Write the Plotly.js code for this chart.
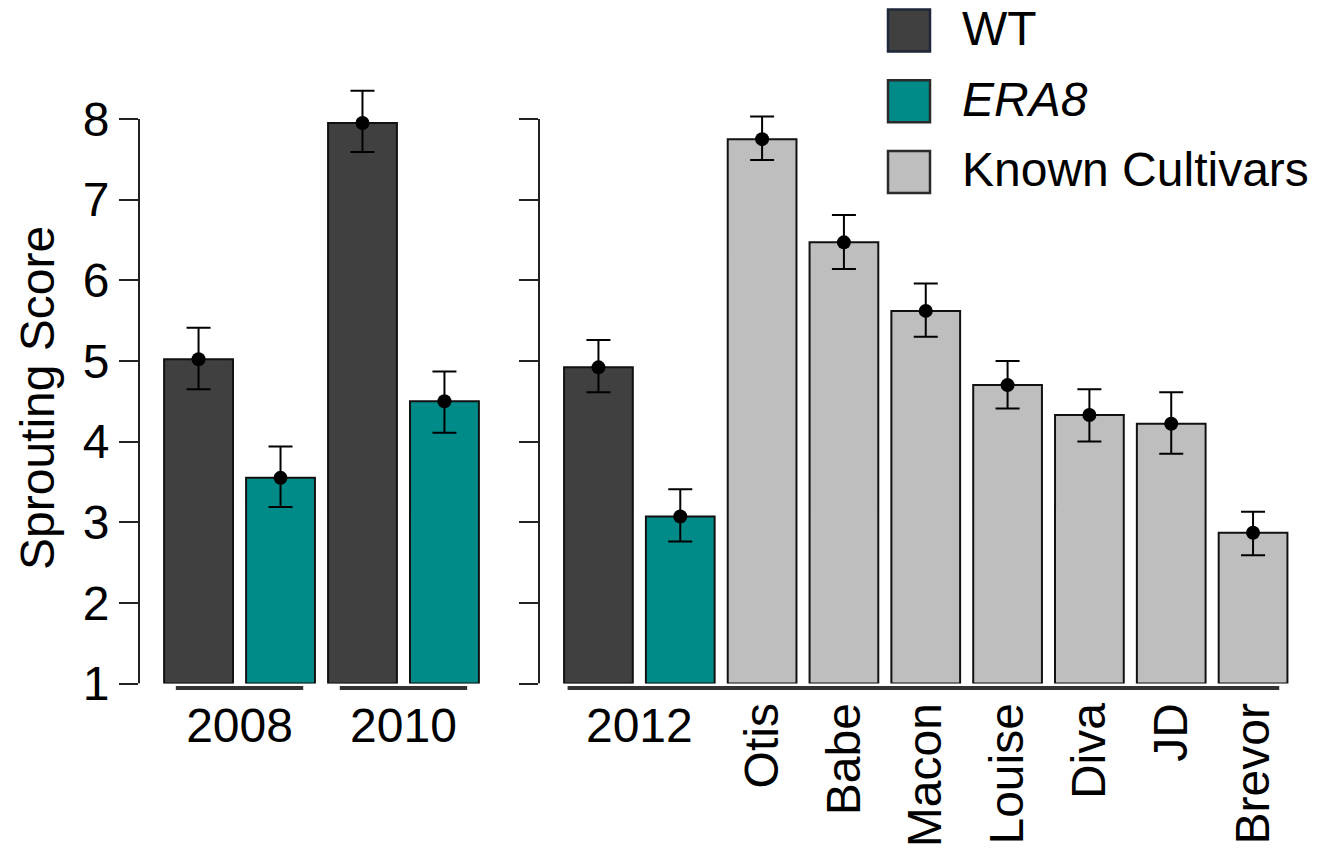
<!DOCTYPE html>
<html>
<head>
<meta charset="utf-8">
<script src="https://cdn.plot.ly/plotly-3.0.1.min.js"></script>
<style>
  html, body { margin: 0; padding: 0; background: #ffffff; }
  #chart { width: 1323px; height: 854px; }
</style>
</head>
<body>
<div id="chart"></div>
<script>
// ---- data -------------------------------------------------------------
// Left panel: field seasons 2008 and 2010, WT vs ERA8
const leftGroups = ['WT', 'ERA8', 'WT', 'ERA8'];
const leftMeans  = [5.02, 3.55, 7.95, 4.50];
const leftUpper  = [5.41, 3.94, 8.35, 4.87];
const leftLower  = [4.65, 3.19, 7.59, 4.11];
const leftYearTicks = ['2008', '2010'];

// Right panel: 2012 season WT, ERA8 and known cultivars
const rightNames  = ['WT 2012', 'ERA8 2012', 'Otis', 'Babe', 'Macon', 'Louise', 'Diva', 'JD', 'Brevor'];
const rightGroups = ['WT', 'ERA8', 'Known', 'Known', 'Known', 'Known', 'Known', 'Known', 'Known'];
const rightMeans  = [4.92, 3.07, 7.75, 6.47, 5.62, 4.70, 4.33, 4.22, 2.87];
const rightUpper  = [5.26, 3.41, 8.03, 6.81, 5.96, 5.00, 4.65, 4.61, 3.13];
const rightLower  = [4.61, 2.76, 7.49, 6.14, 5.30, 4.41, 4.00, 3.85, 2.59];
const rightYearTicks = ['2012'];

const yTicks = [1, 2, 3, 4, 5, 6, 7, 8];

const legendLabels = ['WT', '<i>ERA8</i>', 'Known Cultivars'];
const legendKeys   = ['WT', 'ERA8', 'Known'];

// ---- styling ----------------------------------------------------------
const groupColor  = { WT: '#404040', ERA8: '#008b88', Known: '#bebebe' };
const groupBorder = { WT: '#1d2739', ERA8: '#2a2a2a', Known: '#2a2a2a' };
const FONT = 'Liberation Sans, Arial, Helvetica, sans-serif';
const BASE = yTicks[0];
const BAR_W = 0.84;

const idx = arr => arr.map((_, i) => i);

function barTrace(means, groups, xa, ya) {
  return {
    type: 'bar',
    x: idx(means),
    y: means.map(v => v - BASE),
    base: BASE,
    width: BAR_W,
    xaxis: xa, yaxis: ya,
    marker: {
      color: groups.map(g => groupColor[g]),
      line: { color: '#111111', width: 2 }
    },
    showlegend: false,
    hoverinfo: 'skip'
  };
}

function meanTrace(means, upper, lower, xa, ya) {
  return {
    type: 'scatter',
    mode: 'markers',
    x: idx(means),
    y: means,
    xaxis: xa, yaxis: ya,
    cliponaxis: false,
    marker: { color: '#000000', size: 14, symbol: 'circle' },
    error_y: {
      type: 'data',
      symmetric: false,
      array: upper.map((u, i) => u - means[i]),
      arrayminus: lower.map((l, i) => means[i] - l),
      color: '#000000',
      thickness: 2,
      width: 12
    },
    showlegend: false
  };
}

// the right-hand means sit on the overlaid cultivar axis (same domain and range)
const data = [
  barTrace(leftMeans, leftGroups, 'x', 'y'),
  meanTrace(leftMeans, leftUpper, leftLower, 'x', 'y'),
  barTrace(rightMeans, rightGroups, 'x2', 'y2'),
  meanTrace(rightMeans, rightUpper, rightLower, 'x3', 'y2')
];

// ---- axes -------------------------------------------------------------
const W = 1323, H = 854;
const yDomain = [(H - 683.5) / H, (H - 70.6) / H];
const yRange = [BASE, 8.6];
const pad = 0.7265;

const tickFont = { family: FONT, size: 48, color: '#000000' };

const yAxisCommon = {
  domain: yDomain,
  range: yRange,
  tickmode: 'array',
  tickvals: yTicks,
  ticks: 'outside',
  ticklen: 19,
  tickwidth: 2,
  tickcolor: '#222222',
  showline: false,
  showgrid: false,
  zeroline: false,
  tickfont: tickFont,
  fixedrange: true
};

const xAxisCommon = {
  showline: false,
  showgrid: false,
  zeroline: false,
  ticks: '',
  tickmode: 'array',
  tickfont: tickFont,
  fixedrange: true,
  ticklabelstandoff: 9
};

// year underlines spanning each genotype pair
const lineColor = '#333333';
const underlineY = (H - 688) / H;
const shapes = [
  { type: 'line', xref: 'x', yref: 'paper', x0: -0.277, x1: 1.277, y0: underlineY, y1: underlineY, line: { color: lineColor, width: 4 } },
  { type: 'line', xref: 'x', yref: 'paper', x0: 1.723, x1: 3.277, y0: underlineY, y1: underlineY, line: { color: lineColor, width: 4 } },
  { type: 'line', xref: 'x2', yref: 'paper', x0: -0.377, x1: rightMeans.length - 0.68, y0: underlineY, y1: underlineY, line: { color: lineColor, width: 4 } },
  // y axis spines running from the first to the last tick
  { type: 'line', xref: 'x domain', yref: 'y', x0: 0, x1: 0, y0: yTicks[0], y1: yTicks[yTicks.length - 1], line: { color: '#222222', width: 2 } },
  { type: 'line', xref: 'x2 domain', yref: 'y2', x0: 0, x1: 0, y0: yTicks[0], y1: yTicks[yTicks.length - 1], line: { color: '#222222', width: 2 } }
];

// legend keys drawn as large swatches
const annotations = [];
legendKeys.forEach((k, i) => {
  const top = 9.5 + i * 70.7, bottom = top + 42;
  shapes.push({
    type: 'rect', xref: 'paper', yref: 'paper',
    x0: 888 / W, x1: 930 / W, y0: (H - bottom) / H, y1: (H - top) / H,
    fillcolor: groupColor[k],
    line: { color: groupBorder[k], width: 2.5 }
  });
  annotations.push({
    xref: 'paper', yref: 'paper',
    x: 960 / W, y: (H - (top + 19)) / H,
    xanchor: 'left', yanchor: 'middle',
    text: legendLabels[i],
    showarrow: false,
    font: { family: FONT, size: 48, color: '#000000' }
  });
});

// y axis title
annotations.push({
  xref: 'paper', yref: 'paper',
  x: 38 / W, y: (H - 398) / H,
  xanchor: 'center', yanchor: 'middle',
  text: 'Sprouting Score',
  textangle: -90,
  showarrow: false,
  font: { family: FONT, size: 48, color: '#000000' }
});

const layout = {
  width: W, height: H,
  margin: { l: 0, r: 0, t: 0, b: 0, pad: 0 },
  paper_bgcolor: '#ffffff',
  plot_bgcolor: 'rgba(0,0,0,0)',
  font: { family: FONT, size: 48, color: '#000000' },
  showlegend: false,
  bargap: 0,
  xaxis: Object.assign({}, xAxisCommon, {
    domain: [139 / W, 504 / W],
    range: [-pad, leftMeans.length - 1 + pad],
    tickvals: [0.5, 2.5],
    ticktext: leftYearTicks,
    anchor: 'y'
  }),
  yaxis: Object.assign({}, yAxisCommon, { anchor: 'x' }),
  xaxis2: Object.assign({}, xAxisCommon, {
    domain: [539 / W, 1312.5 / W],
    range: [-pad, rightMeans.length - 1 + pad],
    tickvals: [0.5],
    ticktext: rightYearTicks,
    tickangle: 0,
    anchor: 'y2'
  }),
  xaxis3: Object.assign({}, xAxisCommon, {
    domain: [539 / W, 1312.5 / W],
    range: [-pad, rightMeans.length - 1 + pad],
    tickvals: idx(rightNames).slice(2),
    ticktext: rightNames.slice(2),
    tickangle: -90,
    overlaying: 'x2',
    anchor: 'y2'
  }),
  yaxis2: Object.assign({}, yAxisCommon, { anchor: 'x2', showticklabels: false }),
  shapes: shapes,
  annotations: annotations
};

Plotly.newPlot('chart', data, layout, { displayModeBar: false, staticPlot: true });
</script>
</body>
</html>
